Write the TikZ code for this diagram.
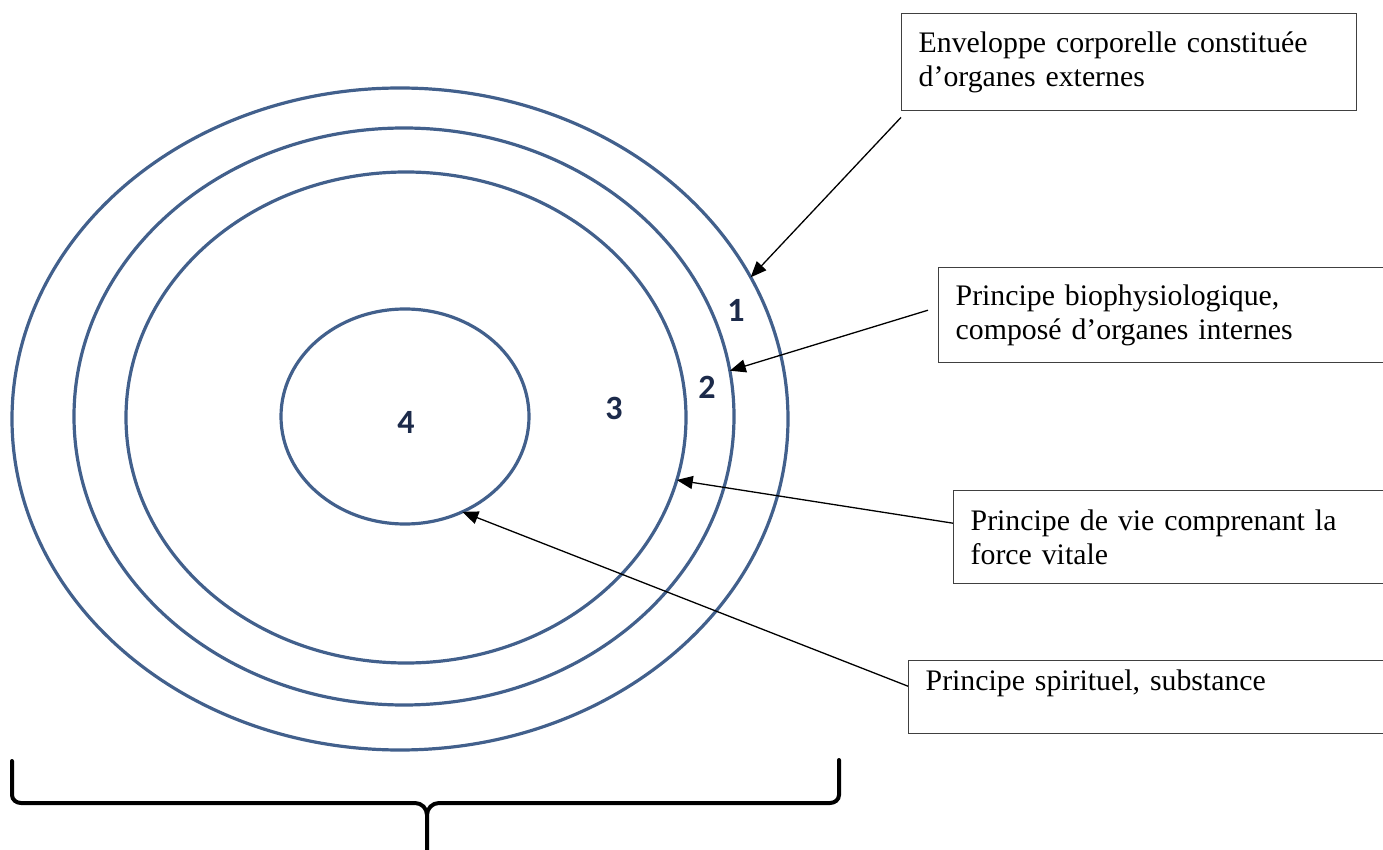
\documentclass[tikz,border=0pt]{standalone}
\usepackage{fontspec}
\setmainfont{Liberation Serif}
\newfontfamily\numfont{Carlito}
\usepackage{xcolor}
\usepackage{tikz}
\usetikzlibrary{shapes.geometric, arrows.meta, positioning}

\definecolor{ringblue}{RGB}{66,96,140}
\definecolor{numnavy}{RGB}{28,42,74}

\begin{document}
\begin{tikzpicture}[x=0.5pt, y=-0.5pt,
		ring/.style={draw=ringblue, line width=1.6pt, ellipse, inner sep=0pt, outer sep=0pt},
		num/.style={font=\numfont\bfseries\fontsize{17}{19}\selectfont, text=numnavy},
		infobox/.style={draw=black!75, line width=0.7pt, anchor=north west, align=left,
			inner xsep=8.5pt, inner ysep=0pt, font=\fontsize{14.9}{16.8}\selectfont},
		pointer/.style={-{Triangle[length=8pt, width=6.5pt]}, line width=0.65pt},
		brace/.style={line width=2pt, line cap=round}]
		\useasboundingbox (0,0) rectangle (1383,850);
		
		% Rings
		\node[ring, minimum width=388pt, minimum height=331pt] (outer) at (400,419) {};
		\node[ring, minimum width=330pt, minimum height=288.5pt] (second) at (404,416.5) {};
		\node[ring, minimum width=280pt, minimum height=245.5pt] (third) at (406,417.5) {};
		\node[ring, minimum width=124pt, minimum height=107.5pt] (core) at (405,416.5) {};
		
		% Numbers
		\node[num] (n1) at (736,310) {1};
		\node[num] (n2) at (707,387) {2};
		\node[num] (n3) at (614,408) {3};
		\node[num] (n4) at (406,422) {4};
		
		% Text boxes
		\node[infobox, text width=210.5pt, minimum height=48.5pt] (env) at (901,13)
			{Enveloppe corporelle constituée\\d’organes externes};
		\node[infobox, text width=213pt, minimum height=47.5pt] (bio) at (938,267)
			{Principe biophysiologique,\\composé d’organes internes};
		\node[infobox, text width=206.5pt, minimum height=46.5pt] (vie) at (953,490)
			{Principe de vie comprenant la\\force vitale};
		\node[infobox, text width=229pt, minimum height=36.5pt] (esprit) at (908,660)
			{Principe spirituel, substance\\\mbox{}};
		
		% Arrows
		\draw[pointer] ([yshift=-3pt]env.south west) -- (outer.22);
		\draw[pointer] ([xshift=-5pt, yshift=2.5pt]bio.west) -- (second.8);
		\draw[pointer] ([yshift=7pt]vie.west) -- (third.-13);
		\draw[pointer] ([yshift=5.5pt]esprit.west) -- (core.-59);
		
		% Brace
		\draw[brace] (12,761) -- (12,795) to[out=-90, in=180] (21,803) -- (415,803)
			to[out=0, in=90] (427,815) -- (427,850);
		\draw[brace] (839,760) -- (839,795) to[out=-90, in=0] (830,803) -- (439,803)
			to[out=180, in=90] (427,815);
		
	\end{tikzpicture}
\end{document}
